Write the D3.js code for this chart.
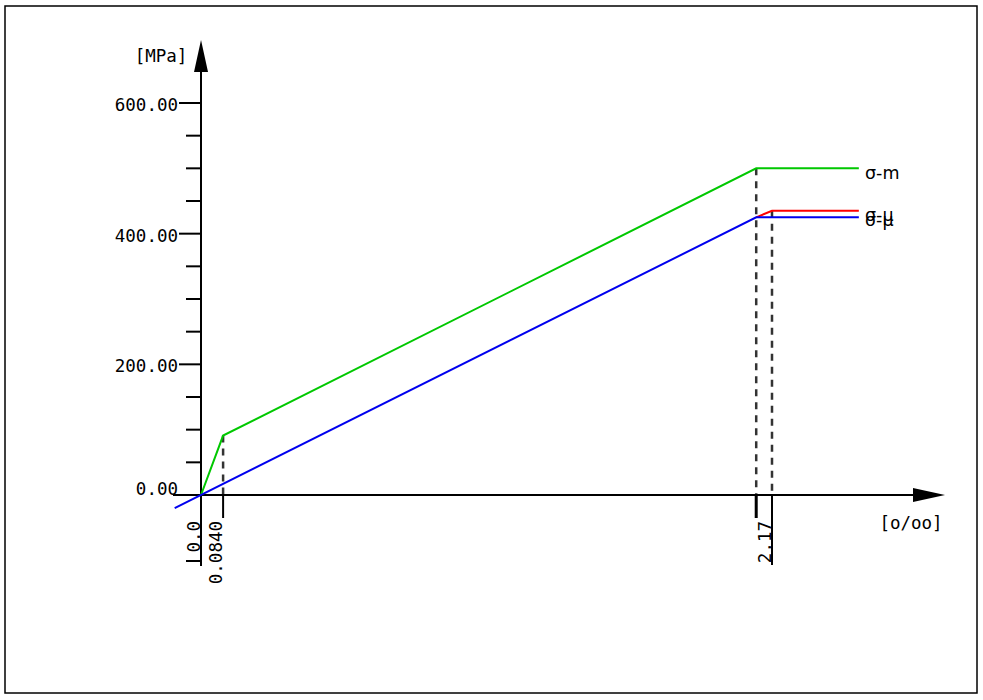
<!DOCTYPE html>
<html><head><meta charset="utf-8">
<script src="https://cdn.jsdelivr.net/npm/d3@7"></script>
<style>body{margin:0;background:#fff}svg{display:block}</style>
</head><body>
<svg id="c" width="983" height="700"></svg>
<script>
// data
const yTicksMajor = [0, 200, 400, 600];
const yTicksMinor = [50, 100, 150, 250, 300, 350, 450, 500, 550];
const yTickLabels = ["0.00", "200.00", "400.00", "600.00"];
const sigmaM = [[0, 0], [0.084, 91], [2.11, 500], [2.5, 500]];
const sigmaMu1 = [[2.11, 425], [2.17, 435], [2.5, 435]];
const sigmaMu2 = [[-0.1, -20], [2.11, 425], [2.5, 425]];
const xMarks = [0.084, 2.11, 2.17];
const xMarkLabels = ["0.0840", "", "2.17"];
const seriesLabels = ["σ-m", "σ-μ", "σ-μ"];

const svg = d3.select("#c");
const x = d3.scaleLinear().domain([0, 2.17]).range([201, 772]);
const y = d3.scaleLinear().domain([0, 600]).range([495, 103]);
const mono = "DejaVu Sans Mono";

svg.append("rect").attr("x", 5).attr("y", 6).attr("width", 972).attr("height", 687)
  .attr("fill", "none").attr("stroke", "#000").attr("stroke-width", 1.5);

const line = d3.line().x(d => x(d[0])).y(d => y(d[1]));

// dashed guides
const guideTop = [91, 500, 435];
const guideBottom = [518, 518, 565];
xMarks.forEach((v, i) => {
  svg.append("line").attr("x1", x(v)).attr("x2", x(v)).attr("y1", y(guideTop[i])).attr("y2", y(0))
    .attr("stroke", "#333").attr("stroke-width", 2.5).attr("stroke-dasharray", "7,6");
  svg.append("line").attr("x1", x(v)).attr("x2", x(v)).attr("y1", y(0)).attr("y2", guideBottom[i])
    .attr("stroke", "#000").attr("stroke-width", i === 1 ? 3 : 2);
  if (xMarkLabels[i]) {
    svg.append("text").attr("transform", `translate(${x(v) - 1},521) rotate(-90)`)
      .attr("text-anchor", "end").attr("font-family", mono).attr("font-size", 17.5)
      .text(xMarkLabels[i]);
  }
});

// axes
svg.append("line").attr("x1", 173).attr("x2", 915).attr("y1", y(0)).attr("y2", y(0))
  .attr("stroke", "#000").attr("stroke-width", 2);
svg.append("path").attr("d", "M913,488L945,495L913,502Z").attr("fill", "#000");
svg.append("line").attr("x1", x(0)).attr("x2", x(0)).attr("y1", 566).attr("y2", 70)
  .attr("stroke", "#000").attr("stroke-width", 2);
svg.append("path").attr("d", "M194,72L201,40L208,72Z").attr("fill", "#000");

yTicksMajor.forEach((v, i) => {
  svg.append("line").attr("x1", 179).attr("x2", 201).attr("y1", y(v)).attr("y2", y(v))
    .attr("stroke", "#000").attr("stroke-width", 2);
  svg.append("text").attr("x", 178).attr("y", y(v) + (i === 0 ? 0 : 8)).attr("text-anchor", "end")
    .attr("font-family", mono).attr("font-size", 17.5).text(yTickLabels[i]);
});
yTicksMinor.forEach(v => {
  svg.append("line").attr("x1", 186).attr("x2", 201).attr("y1", y(v)).attr("y2", y(v))
    .attr("stroke", "#000").attr("stroke-width", 2);
});
// origin strain tick
svg.append("line").attr("x1", 186).attr("x2", 201).attr("y1", 561).attr("y2", 561)
  .attr("stroke", "#000").attr("stroke-width", 2);
svg.append("line").attr("x1", 201).attr("x2", 201).attr("y1", 495).attr("y2", 518)
  .attr("stroke", "#000").attr("stroke-width", 2);
svg.append("text").attr("transform", `translate(200,521) rotate(-90)`)
  .attr("text-anchor", "end").attr("font-family", mono).attr("font-size", 17.5).text("0.0");

svg.append("text").attr("x", 161).attr("y", 62).attr("text-anchor", "middle")
  .attr("font-family", mono).attr("font-size", 17.5).text("[MPa]");
svg.append("text").attr("x", 911).attr("y", 529).attr("text-anchor", "middle")
  .attr("font-family", mono).attr("font-size", 17.5).text("[o/oo]");

// series
const series = [[sigmaM, "#00c800"], [sigmaMu1, "#ff0000"], [sigmaMu2, "#0000ee"]];
series.forEach(([d, c]) => {
  svg.append("path").datum(d).attr("d", line).attr("fill", "none").attr("stroke", c).attr("stroke-width", 2);
});
const labelY = [179, 221, 226];
seriesLabels.forEach((t, i) => {
  svg.append("text").attr("x", 865).attr("y", labelY[i]).attr("font-family", "DejaVu Sans")
    .attr("font-size", 17.5).text(t);
});
</script>
</body></html>
